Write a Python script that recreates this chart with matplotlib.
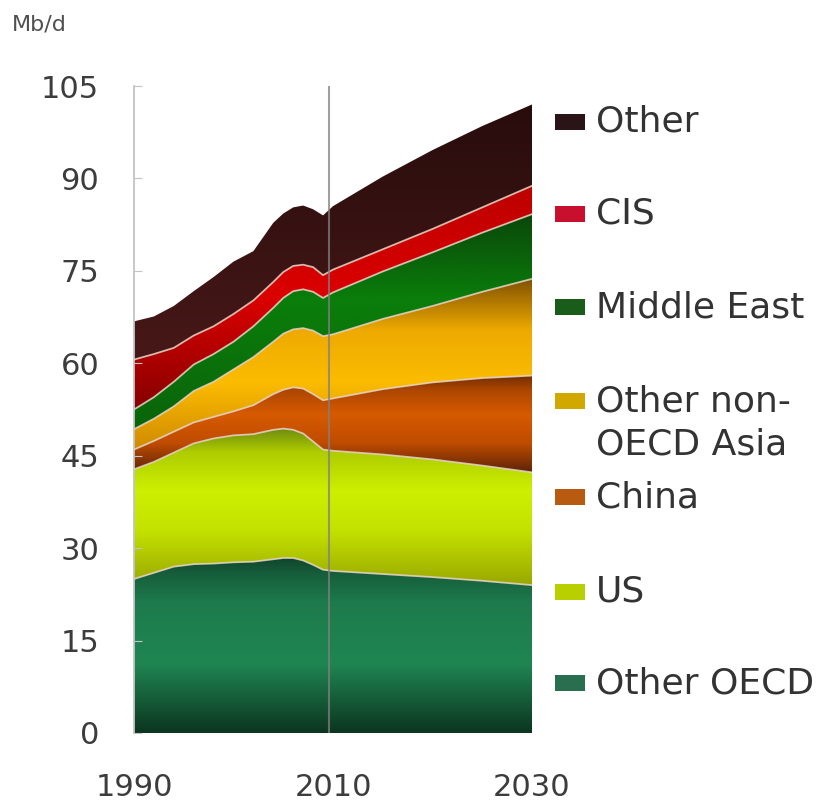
import numpy as np
import matplotlib
matplotlib.use("Agg")
import matplotlib.pyplot as plt
from matplotlib.colors import LinearSegmentedColormap
from matplotlib.patches import Rectangle

# Oil demand by region, Mb/d
years = [1990, 1992, 1994, 1996, 1998, 2000, 2002, 2004, 2005, 2006, 2007,
         2008, 2009, 2010, 2015, 2020, 2025, 2030]
other_oecd = [25.0, 26.0, 27.0, 27.4, 27.5, 27.7, 27.8, 28.2, 28.4, 28.4, 28.0,
              27.3, 26.5, 26.3, 25.8, 25.3, 24.7, 24.0]
us = [17.8, 18.0, 18.5, 19.6, 20.3, 20.6, 20.7, 21.0, 21.0, 20.8, 20.6,
      20.0, 19.5, 19.5, 19.4, 19.1, 18.7, 18.3]
china = [3.2, 3.4, 3.4, 3.4, 3.5, 3.9, 4.7, 5.8, 6.3, 6.9, 7.3,
         7.7, 8.0, 8.5, 10.6, 12.5, 14.2, 15.7]
other_asia = [3.3, 3.6, 4.1, 5.1, 5.7, 6.8, 7.8, 8.5, 9.1, 9.4, 9.8,
              10.3, 10.4, 10.4, 11.4, 12.4, 14.0, 15.7]
middle_east = [3.2, 3.5, 4.0, 4.3, 4.5, 4.5, 5.0, 5.5, 5.8, 6.2, 6.3,
               6.3, 6.2, 6.8, 7.7, 8.7, 9.6, 10.5]
cis = [8.1, 7.0, 5.5, 4.7, 4.5, 4.5, 4.2, 4.2, 4.2, 4.1, 4.0,
       4.0, 3.7, 3.7, 3.6, 3.8, 4.1, 4.6]
other = [6.2, 6.1, 6.8, 7.2, 8.0, 8.5, 8.0, 9.6, 9.5, 9.5, 9.6,
         9.4, 9.7, 10.3, 11.8, 12.8, 13.2, 13.2]

series_labels = ["Other OECD", "US", "China", "Other non-OECD Asia",
                 "Middle East", "CIS", "Other"]
series_values = [other_oecd, us, china, other_asia, middle_east, cis, other]

y_ticks = [0, 15, 30, 45, 60, 75, 90, 105]
x_ticks = [1990, 2010, 2030]
split_year = 2009.6

# vertical colour ramps (bottom -> top) for each band
ramps = [
    [(0.0, "#0c3520"), (0.4, "#1f8652"), (0.75, "#1d7a4c"), (0.92, "#165c3b"), (1.0, "#10452c")],
    [(0.0, "#9aa800"), (0.35, "#c4e200"), (0.6, "#ccf000"), (0.85, "#aecc00"), (1.0, "#6e8a10")],
    [(0.0, "#5e2408"), (0.3, "#c04c00"), (0.6, "#d65a00"), (0.85, "#ac4600"), (1.0, "#702c00")],
    [(0.0, "#d08a00"), (0.4, "#fbbc00"), (0.7, "#eeaa00"), (1.0, "#825200")],
    [(0.0, "#0a640a"), (0.6, "#0a7e0a"), (1.0, "#0a460a")],
    [(0.0, "#860000"), (0.5, "#dc0000"), (1.0, "#bc0000")],
    [(0.0, "#481818"), (1.0, "#280c0c")],
]
legend_colors = ["#2a6e50", "#b8d000", "#b85a10", "#d0a800",
                 "#1a5c1a", "#c8102e", "#2a1418"]

plt.rcParams["font.family"] = ["DejaVu Sans"]

W, H = 840, 808
fig = plt.figure(figsize=(W / 100, H / 100), dpi=100)
ax = fig.add_axes([134 / W, 1 - 733 / H, 398 / W, (733 - 86) / H])

x = np.array(years, dtype=float)
vals = np.array(series_values, dtype=float)
tops = np.cumsum(vals, axis=0)
bottoms = tops - vals

grad = np.linspace(0, 1, 256).reshape(-1, 1)
for i in range(len(series_values)):
    lo, hi = bottoms[i], tops[i]
    poly = ax.fill_between(x, lo, hi, facecolor="none", edgecolor="none")
    cmap = LinearSegmentedColormap.from_list(f"band{i}", ramps[i])
    im = ax.imshow(grad, extent=[x[0], x[-1], lo.min(), hi.max()],
                   origin="lower", aspect="auto", cmap=cmap, zorder=1,
                   interpolation="bicubic")
    im.set_clip_path(poly.get_paths()[0], transform=ax.transData)

# thin light separators between bands
for i in range(len(series_values) - 1):
    ax.plot(x, tops[i], color="#e4d2c4", lw=1.3, zorder=3, alpha=0.85)

# history / projection divider
ax.axvline(split_year, color="#808080", lw=1.5, zorder=4, alpha=0.75)

ax.set_xlim(1990, 2030)
ax.set_ylim(0, 105)
ax.set_yticks(y_ticks)
ax.set_xticks(x_ticks)
for s in ["top", "right", "bottom"]:
    ax.spines[s].set_visible(False)
ax.spines["left"].set_color("#c4c4c4")
ax.spines["left"].set_linewidth(1.3)
ax.tick_params(axis="y", direction="in", length=6, color="#c4c4c4",
               labelsize=22, labelcolor="#3c3c3c", pad=25)
ax.tick_params(axis="x", length=0, labelsize=22, labelcolor="#3c3c3c", pad=29)

fig.text(12 / W, 1 - 24 / H, "Mb/d", fontsize=16, color="#505050",
         ha="left", va="center")

# legend, listed top to bottom
legend_rows = [
    ("Other", 122, 6),
    ("CIS", 214, 5),
    ("Middle East", 307, 4),
    ("Other non-", 401, 3),
    ("China", 497, 2),
    ("US", 592, 1),
    ("Other OECD", 683, 0),
]
for text, ypx, idx in legend_rows:
    fig.patches.append(Rectangle((555 / W, 1 - (ypx + 8) / H), 30 / W, 16 / H,
                                 transform=fig.transFigure,
                                 facecolor=legend_colors[idx], edgecolor="none"))
    fig.text(596 / W, 1 - ypx / H, text, fontsize=26, color="#333333",
             ha="left", va="center")
fig.text(596 / W, 1 - 444 / H, "OECD Asia", fontsize=26, color="#333333",
         ha="left", va="center")

fig.savefig("out.png", dpi=100, facecolor="white")
